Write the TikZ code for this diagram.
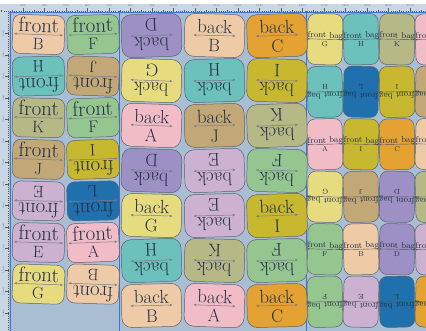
\documentclass[tikz,border=0pt]{standalone}
\usetikzlibrary{arrows.meta}
\definecolor{bg}{HTML}{A9BDD3}
\definecolor{rulerc}{HTML}{C9D7E5}
\definecolor{guide}{HTML}{3F74C8}
\definecolor{txt}{HTML}{233047}
\definecolor{arrc}{HTML}{7A7A84}
\definecolor{edge}{HTML}{5C6270}
\definecolor{cA}{HTML}{F2BCC6}
\definecolor{cB}{HTML}{EECBA6}
\definecolor{cC}{HTML}{E3A232}
\definecolor{cD}{HTML}{9D90C4}
\definecolor{cE}{HTML}{CDB1D1}
\definecolor{cF}{HTML}{96C690}
\definecolor{cG}{HTML}{E7DB80}
\definecolor{cH}{HTML}{6CC1BC}
\definecolor{cI}{HTML}{C8B82F}
\definecolor{cJ}{HTML}{C2A876}
\definecolor{cK}{HTML}{B6B985}
\definecolor{cL}{HTML}{2070AE}
\tikzset{
  card/.style={draw=edge,line width=0.5pt,inner sep=0pt,rectangle},
  arr/.style={draw=arrc,line width=0.5pt,{Stealth[length=3pt,width=2.4pt]}-{Stealth[length=3pt,width=2.4pt]}},
  sarr/.style={draw=arrc!70!black,line width=0.4pt,{Stealth[length=1.8pt,width=1.6pt]}-{Stealth[length=1.8pt,width=1.6pt]}},
  ctext/.style={text=txt,inner sep=0pt,anchor=base},
  tick/.style={draw=black!65,line width=0.2pt},
  rlabel/.style={text=black!60,inner sep=0pt,font=\fontsize{2.6}{3}\selectfont}
}
% front cards (group 1)
\newcommand\fcard[5]{%
\begin{scope}[shift={(#2,-#3)},rotate=#4,transform shape]
\node[card,fill=c#5,minimum width=52pt,minimum height=39pt,rounded corners=8pt] (#1) at (0,0) {};
\draw[arr] (-24.5,0) -- (24.5,0);
\node[ctext,font=\fontsize{21}{21}\selectfont] (#1w) at (0,2.2) {front};
\node[ctext,font=\fontsize{16.5}{16.5}\selectfont] (#1l) at (0,-15) {#5};
\end{scope}}
% back cards (group 2)
\newcommand\bcard[5]{%
\begin{scope}[shift={(#2,-#3)},rotate=#4,transform shape]
\node[card,fill=c#5,minimum width=60pt,minimum height=43pt,rounded corners=10pt] (#1) at (0,0) {};
\draw[arr] (-21,0) -- (21,0);
\node[ctext,font=\fontsize{19}{19}\selectfont] (#1w) at (0,2.2) {back};
\node[ctext,font=\fontsize{18}{18}\selectfont] (#1l) at (0,-16.5) {#5};
\end{scope}}
% small cards (group 3)
\newcommand\scard[5]{%
\begin{scope}[shift={(#2,-#3)},rotate=#4,transform shape]
\node[card,fill=c#5,minimum width=35pt,minimum height=51pt,rounded corners=8pt] (#1) at (0,0) {};
\draw[sarr] (-17.5,0) -- (17.5,0);
\node[ctext,font=\fontsize{8.6}{8.6}\selectfont,anchor=base west] (#1w) at (-17.5,1.2) {front bag};
\node[ctext,font=\fontsize{7}{7}\selectfont] (#1l) at (0,-7) {#5};
\end{scope}}
\begin{document}
\begin{tikzpicture}[x=1pt,y=1pt]
\useasboundingbox (0,0) rectangle (426,-331);
\clip (0,0) rectangle (426,-331);
\fill[white] (0,0) rectangle (426,-331);
\fill[bg] (0,-12) rectangle (426,-331);
% rulers
\fill[rulerc] (0,-4) rectangle (426,-12);
\fill[rulerc] (0,-12) rectangle (9,-331);
\foreach \j in {20,...,220} {\draw[tick] ({-41.5+2.15*\j},-12) -- ++(0,1.4);}
\foreach \j in {4,...,44} {\draw[tick] ({-41.5+10.75*\j},-12) -- ++(0,2.4);}
\foreach \k in {3,...,21} {
  \draw[tick] ({-41.5+21.5*\k},-12) -- ++(0,4);
  \node[rlabel] (tl\k) at ({-41.5+21.5*\k},-5.8) {\the\numexpr\k*100\relax};
}
\foreach \j in {6,...,160} {\draw[tick] (9,{-2.15*\j}) -- ++(-1.4,0);}
\foreach \k in {1,...,14} {
  \draw[tick] (9,{-21.5*\k-12}) -- ++(-4,0);
  \node[rlabel,rotate=90] (ll\k) at (3.5,{-21.5*\k-12}) {\the\numexpr\k*100\relax};
}
% guide lines
\draw[guide,line width=0.8pt] (10,-12) -- (10,-331);
\draw[guide,line width=0.8pt] (119.5,-11) -- (119.5,-331);
\draw[guide,line width=0.8pt] (306.5,-11) -- (306.5,-331);
\draw[guide,line width=0.5pt] (9,-12) -- (426,-12);
% group 1
\fcard{f11}{38.5}{34.5}{-2}{B}
\fcard{f12}{93}{34.5}{1.5}{F}
\fcard{f21}{38.5}{76.1}{181.5}{H}
\fcard{f22}{93}{76.1}{178}{J}
\fcard{f31}{38.5}{117.7}{-1.5}{K}
\fcard{f32}{93}{117.7}{2}{F}
\fcard{f41}{38.5}{159.3}{-2}{J}
\fcard{f42}{93}{159.3}{182}{I}
\fcard{f51}{38.5}{200.9}{178.5}{E}
\fcard{f52}{93}{200.9}{181.5}{L}
\fcard{f61}{38.5}{242.5}{-1.5}{E}
\fcard{f62}{93}{242.5}{2}{A}
\fcard{f71}{38.5}{284.1}{-2}{G}
\fcard{f72}{93}{284.1}{178}{B}
% group 2
\bcard{b11}{151.5}{35.5}{182}{D}
\bcard{b12}{214.5}{35.5}{-1.5}{B}
\bcard{b13}{277}{35.5}{2}{C}
\bcard{b21}{151.5}{80.5}{178}{G}
\bcard{b22}{214.5}{80.5}{181.5}{H}
\bcard{b23}{277}{80.5}{178.5}{I}
\bcard{b31}{151.5}{125.5}{-2}{A}
\bcard{b32}{214.5}{125.5}{1.5}{J}
\bcard{b33}{277}{125.5}{182}{K}
\bcard{b41}{151.5}{170.5}{178}{D}
\bcard{b42}{214.5}{170.5}{182}{E}
\bcard{b43}{277}{170.5}{178.5}{F}
\bcard{b51}{151.5}{215.5}{-1.5}{G}
\bcard{b52}{214.5}{215.5}{181.5}{E}
\bcard{b53}{277}{215.5}{2}{I}
\bcard{b61}{151.5}{260.5}{182}{H}
\bcard{b62}{214.5}{260.5}{178.5}{K}
\bcard{b63}{277}{260.5}{181.5}{F}
\bcard{b71}{151.5}{305.5}{1.5}{B}
\bcard{b72}{214.5}{305.5}{-2}{A}
\bcard{b73}{277}{305.5}{1.5}{C}
% group 3
\scard{s11}{325}{39.25}{-1.5}{G}
\scard{s12}{361}{39.25}{1.5}{H}
\scard{s13}{397}{39.25}{-1}{K}
\scard{s14}{433}{39.25}{1.5}{A}
\scard{s21}{325}{91.75}{181.5}{H}
\scard{s22}{361}{91.75}{178.5}{L}
\scard{s23}{397}{91.75}{181}{I}
\scard{s24}{433}{91.75}{178.5}{J}
\scard{s31}{325}{144.25}{1.5}{A}
\scard{s32}{361}{144.25}{-1.5}{I}
\scard{s33}{397}{144.25}{1}{C}
\scard{s34}{433}{144.25}{-1.5}{B}
\scard{s41}{325}{196.75}{178.5}{G}
\scard{s42}{361}{196.75}{181.5}{J}
\scard{s43}{397}{196.75}{179}{D}
\scard{s44}{433}{196.75}{181.5}{K}
\scard{s51}{325}{249.25}{-1.5}{F}
\scard{s52}{361}{249.25}{1.5}{B}
\scard{s53}{397}{249.25}{-1}{D}
\scard{s54}{433}{249.25}{1.5}{E}
\scard{s61}{325}{301.75}{181.5}{F}
\scard{s62}{361}{301.75}{178.5}{E}
\scard{s63}{397}{301.75}{181}{L}
\scard{s64}{433}{301.75}{178.5}{C}
\end{tikzpicture}
\end{document}
